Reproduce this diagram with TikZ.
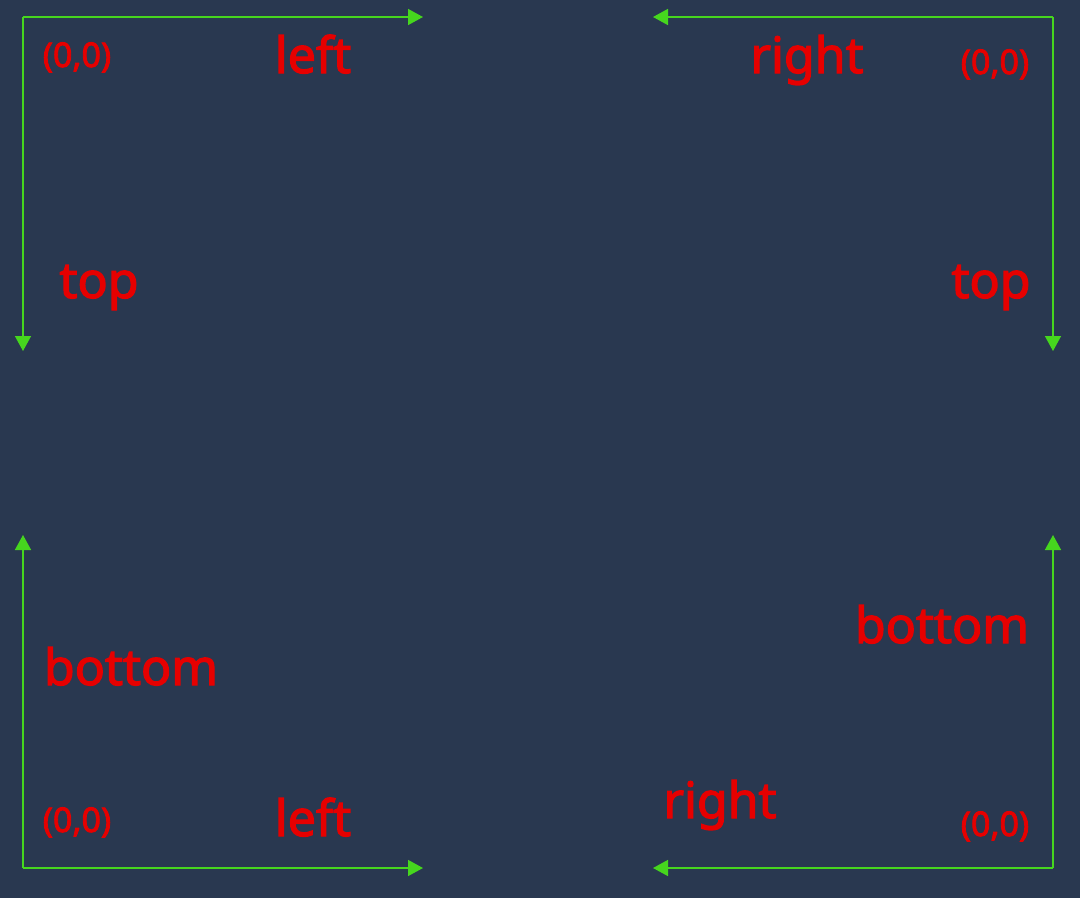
\documentclass[tikz,border=0pt]{standalone}
\usepackage{fontspec}
\setmainfont{Noto Sans}
\newfontfamily\lblfont[FakeBold=2.5]{Noto Sans}
\usetikzlibrary{arrows.meta}
\definecolor{bg}{RGB}{41,56,80}
\definecolor{axis}{RGB}{70,214,30}
\definecolor{lbl}{RGB}{230,0,0}
\begin{document}
\begin{tikzpicture}[x=1pt,y=-1pt,
  axisline/.style={draw=axis,line width=1.5pt,-{Triangle[length=15pt,width=16pt]}},
  biglbl/.style={text=lbl,inner sep=0pt,anchor=base,font=\lblfont\fontsize{50}{50}\selectfont},
  originlbl/.style={text=lbl,inner sep=0pt,anchor=base,font=\lblfont\fontsize{34}{34}\selectfont}]
\fill[bg] (0,0) rectangle (1080,898);
\useasboundingbox (0,0) rectangle (1080,898);
% corners and ends
\coordinate (tlC) at (23,17);   \coordinate (tlR) at (423,17);  \coordinate (tlD) at (23,351);
\coordinate (trC) at (1053,17); \coordinate (trL) at (653,17);  \coordinate (trD) at (1053,351);
\coordinate (blC) at (23,868);  \coordinate (blR) at (423,868); \coordinate (blU) at (23,535);
\coordinate (brC) at (1053,868);\coordinate (brL) at (653,868); \coordinate (brU) at (1053,535);
% axes
\draw[axisline] (tlC) -- (tlR);
\draw[axisline] (tlC) -- (tlD);
\draw[axisline] (trC) -- (trL);
\draw[axisline] (trC) -- (trD);
\draw[axisline] (blC) -- (blR);
\draw[axisline] (blC) -- (blU);
\draw[axisline] (brC) -- (brL);
\draw[axisline] (brC) -- (brU);
% labels
\node[originlbl] (tlO) at (77,67) {(0,0)};
\node[biglbl] (tlLeft) at (313,73) {left};
\node[biglbl] (tlTop) at (99,298) {top};
\node[originlbl] (trO) at (995,74) {(0,0)};
\node[biglbl] (trRight) at (807,73) {right};
\node[biglbl] (trTop) at (991,298) {top};
\node[biglbl] (blBottom) at (131,685) {bottom};
\node[originlbl] (blO) at (77,832) {(0,0)};
\node[biglbl] (blLeft) at (313,836) {left};
\node[biglbl] (brBottom) at (942,643) {bottom};
\node[biglbl] (brRight) at (720,818) {right};
\node[originlbl] (brO) at (995,836) {(0,0)};
\end{tikzpicture}
\end{document}
